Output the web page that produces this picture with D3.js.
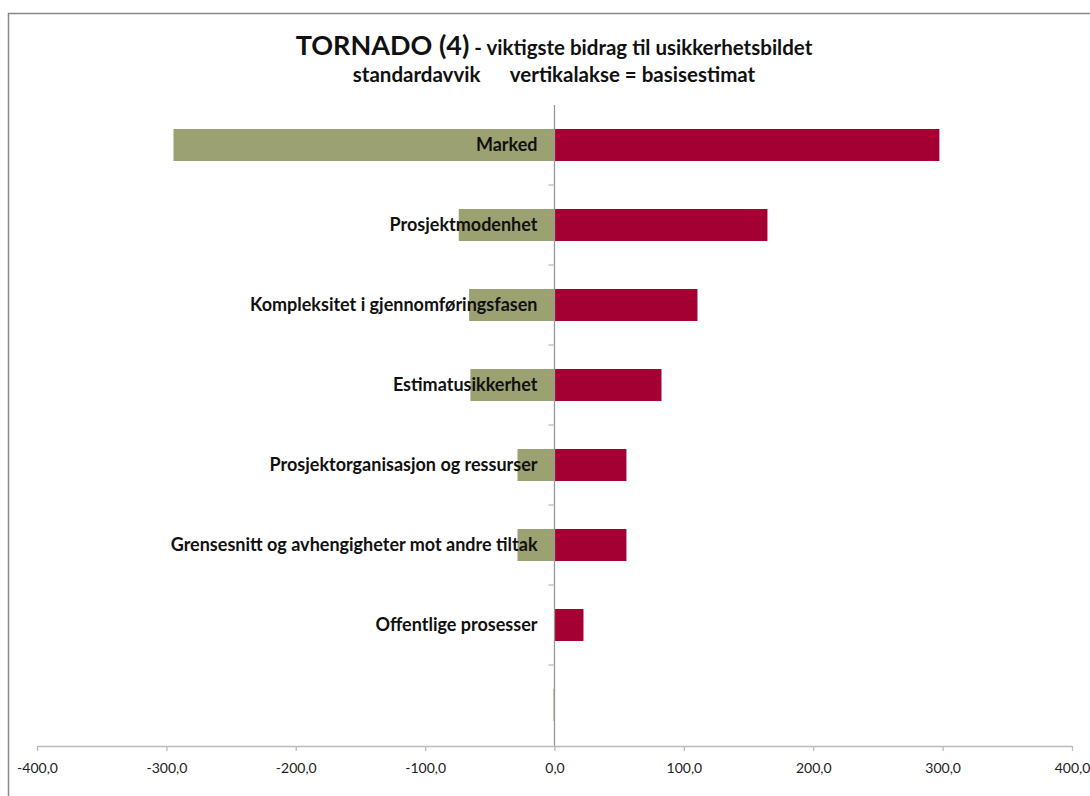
<!DOCTYPE html>
<html>
<head>
<meta charset="utf-8">
<script src="https://cdn.jsdelivr.net/npm/d3@7"></script>
<style>
  body { margin: 0; background: #fff; }
  svg { display: block; font-family: Lato, "Open Sans", sans-serif; }
</style>
</head>
<body>
<svg id="chart" width="1090" height="796"></svg>
<script>
const categories = [
  "Marked",
  "Prosjektmodenhet",
  "Kompleksitet i gjennomføringsfasen",
  "Estimatusikkerhet",
  "Prosjektorganisasjon og ressurser",
  "Grensesnitt og avhengigheter mot andre tiltak",
  "Offentlige prosesser",
  ""
];
const lowValues  = [-294.5, -74.0, -66.0, -65.0, -28.6, -28.6, 0, -0.8];
const highValues = [297.5, 164.6, 110.5, 82.7, 55.6, 55.6, 22.4, 0];
const xTicks = [-400, -300, -200, -100, 0, 100, 200, 300, 400];
const titleMain = "TORNADO (4)";
const titleRest = " - viktigste bidrag til usikkerhetsbildet";
const subtitle = "standardavvik      vertikalakse = basisestimat";

const svg = d3.select("#chart");
const mLeft = 37, mRight = 1072, mTop = 105, mBottom = 745;

// frame
svg.append("path")
  .attr("d", `M8.5,800 L8.5,13.5 L1095,13.5`)
  .attr("fill", "none").attr("stroke", "#888").attr("stroke-width", 1.5);

const x = d3.scaleLinear().domain([-400, 400]).range([mLeft, mRight]);
const y = d3.scaleBand().domain(d3.range(categories.length)).range([mTop, mBottom]).paddingInner(0.6).paddingOuter(0.3);

// bars
svg.append("g").selectAll("rect").data(lowValues).join("rect")
  .attr("x", d => x(Math.min(0, d)))
  .attr("y", (d, i) => y(i))
  .attr("width", d => Math.abs(x(d) - x(0)))
  .attr("height", y.bandwidth())
  .attr("fill", "#9ba171");

svg.append("g").selectAll("rect").data(highValues).join("rect")
  .attr("x", d => x(Math.min(0, d)))
  .attr("y", (d, i) => y(i))
  .attr("width", d => Math.abs(x(d) - x(0)))
  .attr("height", y.bandwidth())
  .attr("fill", "#a50034");

// vertical axis
const yStep = (mBottom - mTop) / categories.length;
svg.append("line")
  .attr("x1", x(0)).attr("x2", x(0)).attr("y1", mTop).attr("y2", mBottom + 1)
  .attr("stroke", "#999").attr("stroke-width", 1.3);
svg.append("g").selectAll("line").data(d3.range(1, categories.length)).join("line")
  .attr("x1", x(0) - 6).attr("x2", x(0))
  .attr("y1", i => mTop + i * yStep).attr("y2", i => mTop + i * yStep)
  .attr("stroke", "#bbb").attr("stroke-width", 1.3);

// horizontal axis
const xAxis = d3.axisBottom(x).tickValues(xTicks)
  .tickFormat(d => d3.format(".1f")(d).replace(".", ",").replace("−", "-"))
  .tickSize(5).tickSizeOuter(0);
const gx = svg.append("g").attr("transform", `translate(0,${mBottom + 1})`).call(xAxis);
gx.select(".domain").attr("stroke", "#bbb").attr("stroke-width", 1.3);
gx.selectAll(".tick line").attr("stroke", "#bbb").attr("stroke-width", 1.3);
gx.selectAll(".tick text").attr("fill", "#222").attr("font-size", 14).attr("dy", 0).attr("y", 27)
  .attr("font-family", "Lato, sans-serif");

// category labels
svg.append("g").selectAll("text").data(categories).join("text")
  .attr("x", x(0) - 17)
  .attr("y", (d, i) => y(i) + y.bandwidth() / 2)
  .attr("dy", "0.36em")
  .attr("text-anchor", "end")
  .attr("font-weight", "bold")
  .attr("font-size", 18)
  .attr("fill", "#111")
  .text(d => d);

// titles
const t = svg.append("text").attr("x", 554).attr("y", 55).attr("text-anchor", "middle")
  .attr("font-weight", "bold").attr("fill", "#111");
t.append("tspan").attr("font-size", 27).text(titleMain);
t.append("tspan").attr("font-size", 20.5).text(titleRest);
svg.append("text").attr("x", 554).attr("y", 82).attr("text-anchor", "middle")
  .attr("font-weight", "bold").attr("font-size", 20.5).attr("fill", "#111")
  .style("white-space", "pre")
  .text(subtitle);
</script>
</body>
</html>
